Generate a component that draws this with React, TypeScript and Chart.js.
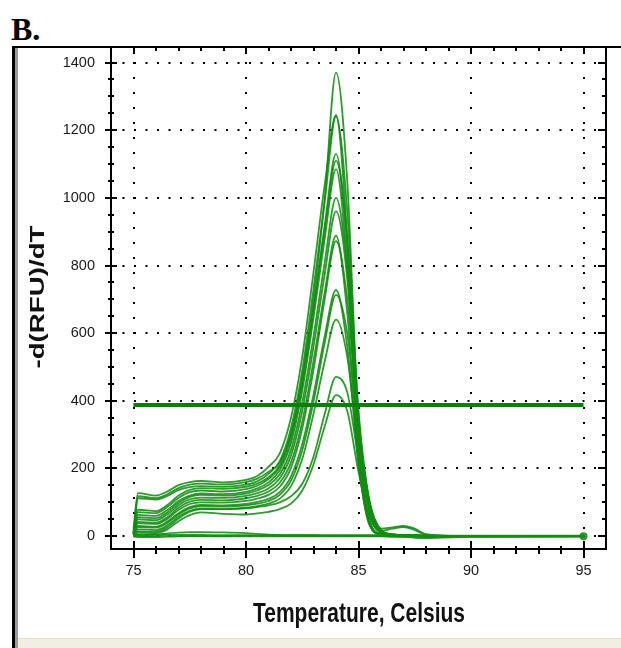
import React, { useEffect, useRef } from 'react';
import { Chart, registerables } from 'chart.js';

Chart.register(...registerables);

// Temperature grid (°C) shared by every melt curve
const TEMPS = [75, 75.2, 76, 76.5, 77, 77.5, 78, 79, 80, 80.5, 81, 81.5, 82, 82.5, 83, 83.5, 84, 84.5, 85, 85.5, 86, 86.5, 87, 87.5, 88, 90, 95];

// -d(RFU)/dT per well
const WELL_01 = [10, 118, 112, 124, 142, 152, 155, 153, 160, 170, 190, 218, 305, 470, 700, 1000, 1370, 1050, 330, 70, 12, 4, 2, 1, 1, 0, 0];
const WELL_02 = [22, 127, 120, 132, 151, 160, 163, 159, 166, 178, 205, 245, 350, 530, 780, 1040, 1245, 880, 250, 30, 5, 3, 2, 1, 1, 0, 0];
const WELL_03 = [5, 112, 108, 119, 136, 145, 148, 146, 152, 162, 184, 222, 320, 490, 730, 990, 1240, 960, 360, 90, 15, 5, 3, 2, 1, 0, 0];
const WELL_04 = [15, 78, 74, 92, 120, 137, 142, 140, 146, 155, 174, 210, 300, 460, 680, 920, 1130, 850, 280, 45, 7, 4, 3, 2, 1, 0, 0];
const WELL_05 = [8, 71, 68, 86, 113, 130, 135, 132, 139, 149, 169, 204, 288, 445, 665, 905, 1110, 880, 370, 100, 18, 5, 3, 2, 1, 0, 0];
const WELL_06 = [12, 63, 60, 77, 104, 120, 126, 124, 131, 141, 159, 195, 275, 430, 645, 880, 1085, 800, 260, 40, 6, 4, 3, 2, 1, 0, 0];
const WELL_07 = [6, 56, 53, 70, 98, 116, 122, 120, 126, 135, 151, 183, 255, 395, 590, 810, 1000, 790, 340, 95, 16, 5, 3, 2, 1, 0, 0];
const WELL_08 = [10, 50, 47, 64, 91, 109, 114, 113, 119, 127, 141, 171, 238, 370, 560, 775, 960, 760, 300, 70, 10, 4, 3, 2, 1, 0, 0];
const WELL_09 = [4, 42, 40, 56, 84, 102, 107, 106, 112, 119, 132, 158, 218, 338, 518, 722, 888, 660, 220, 35, 6, 4, 3, 2, 1, 0, 0];
const WELL_10 = [8, 38, 36, 51, 77, 95, 100, 99, 104, 111, 122, 146, 202, 318, 492, 702, 872, 700, 320, 100, 18, 5, 3, 2, 1, 0, 0];
const WELL_11 = [3, 30, 28, 43, 68, 86, 92, 91, 95, 101, 110, 130, 177, 272, 418, 592, 728, 560, 210, 40, 7, 4, 3, 2, 1, 0, 0];
const WELL_12 = [6, 27, 25, 39, 64, 82, 88, 87, 91, 96, 104, 122, 164, 254, 398, 572, 713, 600, 300, 95, 17, 5, 3, 2, 1, 0, 0];
const WELL_13 = [2, 20, 18, 32, 57, 75, 81, 80, 84, 89, 96, 111, 148, 228, 362, 517, 640, 530, 250, 70, 12, 4, 3, 2, 1, 0, 0];
const WELL_14 = [2, 14, 13, 26, 52, 72, 80, 80, 82, 86, 91, 100, 118, 155, 235, 362, 471, 425, 232, 80, 22, 26, 30, 22, 6, 0, 0];
const WELL_15 = [0, 10, 9, 20, 44, 62, 70, 66, 64, 67, 72, 80, 96, 135, 212, 325, 417, 370, 190, 55, 16, 22, 27, 18, 4, 0, 0];

// Negative-control / blank wells near zero
const BLANK_1 = [0, 2, 2, 3, 3, 2, 2, 1, 1, 1, 1, 1, 1, 1, 1, 1, 1, 1, 1, 1, 1, 0, 0, 0, 0, 0, 0];
const BLANK_2 = [0, 4, 5, 8, 11, 12, 12, 11, 9, 7, 5, 4, 3, 3, 3, 2, 2, 2, 2, 2, 2, 1, 1, 0, -3, -2, 0];
const BLANK_3 = [0, -3, -3, -2, -1, 0, 0, 0, 1, 1, 1, 0, 0, 0, 0, 0, 0, 0, 0, 0, 0, 0, -2, -5, -6, -2, 0];

const THRESHOLD = 388;
const THRESHOLD_SPAN = [75, 95];

const X_TICKS = [75, 80, 85, 90, 95];
const X_MINOR = [75, 76, 77, 78, 79, 80, 81, 82, 83, 84, 85, 86, 87, 88, 89, 90, 91, 92, 93, 94, 95];
const Y_TICKS = [0, 200, 400, 600, 800, 1000, 1200, 1400];
const Y_MINOR = [0, 50, 100, 150, 200, 250, 300, 350, 400, 450, 500, 550, 600, 650, 700, 750, 800, 850, 900, 950, 1000, 1050, 1100, 1150, 1200, 1250, 1300, 1350, 1400];

const MELT_CURVES = [WELL_01, WELL_02, WELL_03, WELL_04, WELL_05, WELL_06, WELL_07, WELL_08, WELL_09, WELL_10, WELL_11, WELL_12, WELL_13, WELL_14, WELL_15];
const BLANKS = [BLANK_1, BLANK_2, BLANK_3];

const CURVE_COLOR = 'rgba(18,140,18,0.88)';
const THRESH_COLOR = '#0a7d0a';
const FONT = '"Liberation Sans", Arial, Helvetica, sans-serif';

const frameTicks = {
  id: 'frameTicks',
  afterDraw(chart: any) {
    const { ctx, chartArea: a, scales } = chart;
    const xs = scales.x;
    const ys = scales.y;
    ctx.save();
    ctx.strokeStyle = '#000';
    ctx.lineWidth = 2;
    ctx.beginPath();
    ctx.moveTo(a.left, a.top);
    ctx.lineTo(a.left, a.bottom);
    ctx.lineTo(a.right, a.bottom);
    ctx.lineTo(a.right, a.top);
    ctx.stroke();
    ctx.beginPath();
    for (const t of xs.ticks) {
      const px = Math.round(xs.getPixelForValue(t.value));
      const major = X_TICKS.includes(t.value);
      ctx.moveTo(px, a.bottom - (major ? 8 : 3));
      ctx.lineTo(px, a.bottom + (major ? 9 : 5));
      ctx.moveTo(px, a.top);
      ctx.lineTo(px, a.top + (major ? 7 : 4));
    }
    for (const t of ys.ticks) {
      const py = Math.round(ys.getPixelForValue(t.value));
      const major = Y_TICKS.includes(t.value);
      ctx.moveTo(a.left - (major ? 6 : 3), py);
      ctx.lineTo(a.left + (major ? 6 : 3), py);
      ctx.moveTo(a.right - (major ? 8 : 4), py);
      ctx.lineTo(a.right, py);
    }
    ctx.stroke();
    ctx.restore();
  },
};

function toPoints(values: number[]) {
  return values.map((v, i) => ({ x: TEMPS[i], y: v }));
}

function MeltChart() {
  const ref = useRef<HTMLCanvasElement | null>(null);
  useEffect(() => {
    if (!ref.current) return;
    const datasets: any[] = [];
    datasets.push({
      label: 'Threshold',
      data: THRESHOLD_SPAN.map((x) => ({ x, y: THRESHOLD })),
      borderColor: THRESH_COLOR,
      borderWidth: 4,
      pointRadius: 0,
      tension: 0,
    });
    BLANKS.forEach((b, i) => {
      datasets.push({
        label: 'Blank ' + (i + 1),
        data: toPoints(b),
        borderColor: CURVE_COLOR,
        borderWidth: i === 0 ? 3 : 1.6,
        pointRadius: (c: any) => (i === 0 && c.dataIndex === TEMPS.length - 1 ? 4 : 0),
        pointBackgroundColor: CURVE_COLOR,
        pointBorderWidth: 0,
        cubicInterpolationMode: 'monotone',
      });
    });
    MELT_CURVES.forEach((c, i) => {
      datasets.push({
        label: 'Well ' + (i + 1),
        data: toPoints(c),
        borderColor: CURVE_COLOR,
        borderWidth: 1.8,
        pointRadius: 0,
        cubicInterpolationMode: 'monotone',
      });
    });

    const chart = new Chart(ref.current, {
      type: 'line',
      data: { datasets },
      options: {
        animation: false,
        responsive: false,
        maintainAspectRatio: false,
        devicePixelRatio: 1,
        layout: { padding: { left: 0, right: 15, top: 47, bottom: 0 } },
        plugins: { legend: { display: false }, tooltip: { enabled: false } },
        elements: { point: { radius: 0, hoverRadius: 0 } },
        scales: {
          x: {
            type: 'linear',
            min: 74,
            max: 96,
            afterBuildTicks: (s: any) => {
              s.ticks = X_MINOR.map((v) => ({ value: v }));
            },
            afterFit: (s: any) => {
              s.height = 99;
            },
            ticks: {
              autoSkip: false,
              maxRotation: 0,
              padding: 13,
              color: '#1a1a1a',
              font: { family: FONT, size: 14.5 },
              callback: (v: any) => (X_TICKS.includes(Number(v)) ? String(v) : ''),
            },
            grid: {
              color: (c: any) => (c.tick && X_TICKS.includes(c.tick.value) ? '#000' : 'rgba(0,0,0,0)'),
              lineWidth: 2,
              drawTicks: false,
            },
            border: { display: false, dash: [2, 13] },
          },
          y: {
            type: 'linear',
            min: -38,
            max: 1446,
            afterBuildTicks: (s: any) => {
              s.ticks = Y_MINOR.map((v) => ({ value: v }));
            },
            afterFit: (s: any) => {
              s.width = 111;
            },
            ticks: {
              autoSkip: false,
              padding: 16,
              color: '#1a1a1a',
              font: { family: FONT, size: 14.5 },
              callback: (v: any) => (Y_TICKS.includes(Number(v)) ? String(v) : ''),
            },
            grid: {
              color: (c: any) => (c.tick && Y_TICKS.includes(c.tick.value) ? '#000' : 'rgba(0,0,0,0)'),
              lineWidth: 2,
              drawTicks: false,
            },
            border: { display: false, dash: [2, 9.5] },
          },
        },
      } as any,
      plugins: [frameTicks],
    });
    return () => chart.destroy();
  }, []);
  return (
    <canvas
      ref={ref}
      width={621}
      height={648}
      style={{ position: 'absolute', left: 0, top: 0, width: 621, height: 648 }}
    />
  );
}

export default function App() {
  return (
    <div
      style={{
        position: 'fixed',
        left: 0,
        top: 0,
        width: 621,
        height: 648,
        background: '#fff',
        overflow: 'hidden',
      }}
    >
      <div
        style={{
          position: 'absolute',
          left: 11,
          top: 13,
          fontFamily: '"Liberation Serif", "Times New Roman", serif',
          fontWeight: 'bold',
          fontSize: 32,
          lineHeight: '32px',
          color: '#000',
        }}
      >
        B.
      </div>
      {/* frame */}
      <div style={{ position: 'absolute', left: 12, top: 46, width: 609, height: 2, background: '#000' }} />
      <div style={{ position: 'absolute', left: 12, top: 46, width: 3, height: 602, background: '#000' }} />
      <div style={{ position: 'absolute', left: 15, top: 48, width: 3, height: 600, background: '#9c9c9c' }} />
      <div
        style={{
          position: 'absolute',
          left: 18,
          top: 638,
          width: 603,
          height: 10,
          background: '#f1efe3',
          borderTop: '1px solid #e2dfcf',
        }}
      />
      <MeltChart />
      <div
        style={{
          position: 'absolute',
          left: 48.5,
          top: 604,
          width: 621,
          height: 21,
          lineHeight: '21px',
          textAlign: 'center',
          fontFamily: FONT,
          fontWeight: 'bold',
          fontSize: 21,
          color: '#111',
          whiteSpace: 'nowrap',
          transform: 'scaleY(1.33)',
          transformOrigin: 'center 17.8px',
        }}
      >
        Temperature, Celsius
      </div>
      <div
        style={{
          position: 'absolute',
          left: 37 - 100,
          top: 296.5 - 10,
          width: 200,
          height: 20,
          lineHeight: '20px',
          textAlign: 'center',
          fontFamily: FONT,
          fontWeight: 'bold',
          fontSize: 19.5,
          color: '#111',
          whiteSpace: 'nowrap',
          transform: 'rotate(-90deg) scaleX(1.42)',
          transformOrigin: 'center center',
        }}
      >
        -d(RFU)/dT
      </div>
    </div>
  );
}
